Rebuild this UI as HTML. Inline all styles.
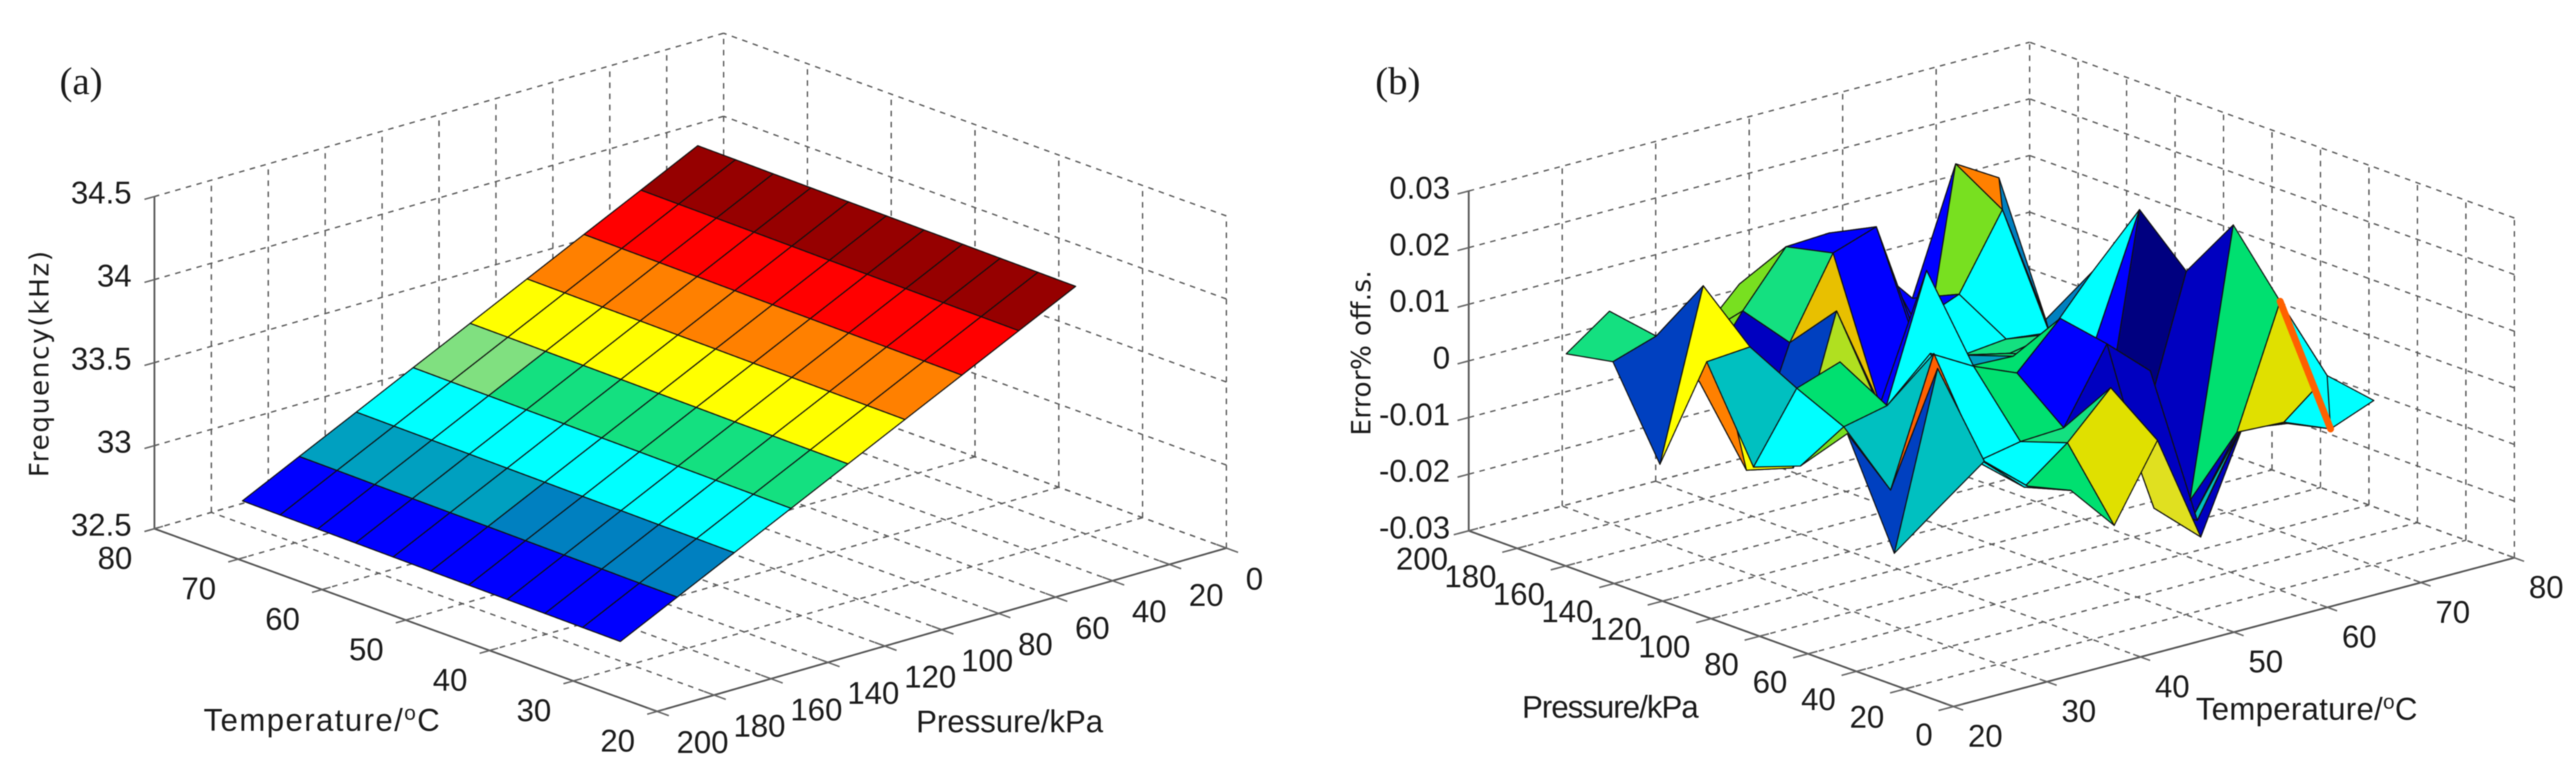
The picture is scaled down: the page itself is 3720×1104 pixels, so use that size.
<!DOCTYPE html>
<html lang="en">
<head>
<meta charset="utf-8">
<title>Frequency and error surfaces</title>
<style>
html,body{margin:0;padding:0;background:#fff;}
body{width:3720px;height:1104px;overflow:hidden;}
svg{display:block;filter:blur(0.7px);}
text{font-family:"Liberation Sans",Arial,sans-serif;fill:#1a1a1a;}
.grid{stroke:#5a5a5a;stroke-width:2;stroke-dasharray:8 8;fill:none;}
.axis{stroke:#555;stroke-width:2.6;fill:none;}
.tick{stroke:#666;stroke-width:2.2;fill:none;}
.facet{stroke:#101010;stroke-width:1.6;stroke-linejoin:round;}
.tl{font-size:45px;}
.ttl{font-size:45px;}
.wide{font-family:"DejaVu Sans",sans-serif;font-size:38px;}
.panel{font-family:"Liberation Serif",serif;font-size:56px;}
</style>
</head>
<body>
<svg id="fig" width="3720" height="1104" viewBox="0 0 3720 1104" xmlns="http://www.w3.org/2000/svg">
  <rect width="3720" height="1104" fill="#fff"/>
  <g id="panelA"></g>
  <g id="panelB"></g>
  <text class="panel" x="86" y="136">(a)</text>
  <text class="panel" x="1986" y="136">(b)</text>
  <text class="wide" transform="translate(70,526) rotate(-90)" text-anchor="middle" textLength="327">Frequency(kHz)</text>
  <text class="wide" transform="translate(1979,510) rotate(-90)" text-anchor="middle" textLength="239">Error% off.s.</text>
  <text class="ttl" x="294" y="1056" textLength="341">Temperature/<tspan dy="-16" font-size="30">o</tspan><tspan dy="16">C</tspan></text>
  <text class="ttl" x="1323" y="1058" textLength="270">Pressure/kPa</text>
  <text class="ttl" x="2198" y="1037" textLength="255">Pressure/kPa</text>
  <text class="ttl" x="3171" y="1040" textLength="320">Temperature/<tspan dy="-16" font-size="30">o</tspan><tspan dy="16">C</tspan></text>
</svg>
<script>
/* ---------- shared axis ticks ---------- */
const pressureTicks = [0,20,40,60,80,100,120,140,160,180,200];
const temperatureTicks = [20,30,40,50,60,70,80];
const frequencyTicks = [32.5,33,33.5,34,34.5];
const errorTicks = [-0.03,-0.02,-0.01,0,0.01,0.02,0.03];

/* ---------- panel (a) data ---------- */
const freqPressures = [200,180,160,140,120,100,80,60,40];
const freqTemperatures = [24.4,28.9,33.4,37.9,42.5,47,51.5,56,60.5,65,69.5];
const freqValues = [
 [32.840,32.842,32.844,32.846,32.848,32.850,32.852,32.854,32.856,32.858,32.860],
 [33.009,33.011,33.013,33.015,33.017,33.019,33.021,33.023,33.025,33.027,33.029],
 [33.178,33.180,33.182,33.184,33.186,33.188,33.190,33.192,33.194,33.196,33.198],
 [33.347,33.349,33.351,33.353,33.355,33.357,33.359,33.361,33.363,33.365,33.367],
 [33.516,33.518,33.520,33.522,33.524,33.526,33.528,33.530,33.532,33.534,33.536],
 [33.685,33.687,33.689,33.691,33.693,33.695,33.697,33.699,33.701,33.703,33.705],
 [33.854,33.856,33.858,33.860,33.862,33.864,33.866,33.868,33.870,33.872,33.874],
 [34.023,34.025,34.027,34.029,34.031,34.033,34.035,34.037,34.039,34.041,34.043],
 [34.192,34.194,34.196,34.198,34.200,34.202,34.204,34.206,34.208,34.210,34.212]
];
const freqBandEdges = [33.0,33.1035,33.2,33.35,33.4475,33.5,33.68,33.85,34.02];
const freqBandColors = ['#0000ff','#0080c0','#00a0c0','#00ffff','#14e080','#80e080','#ffff00','#ff8000','#ff0000','#960000'];

/* ---------- panel (b) data: rows are pressures, columns temperatures ---------- */
const errPressures = [24.4,43.7,63.1,82.4,101.8,121.1,140.4,159.8,179.1];
const errTemperatures = [25,29.63,34.26,38.89,43.52,48.15,52.78,57.41,62.04,66.67,71.3];
const errValues = [
 [-0.0004,0.0053,-0.0011,-0.0039,-0.0121,0.0009,-0.0182,-0.0002,-0.0022,-0.0052,-0.0022],
 [-0.0119,0.0187,0.0005,-0.0063,-0.0005,0.0072,-0.0161,-0.0203,-0.0062,-0.0070,-0.0008],
 [0.0062,-0.0058,0.0163,-0.0048,-0.0033,-0.0029,0.0099,0.0031,-0.0245,-0.0118,0.0093],
 [-0.0025,0.0024,0.0041,0.0113,0.0070,0.0038,0.0114,0.0033,-0.0049,-0.0268,0.0198],
 [-0.0057,0.0062,0.0088,-0.0028,0.0209,0.0020,0.0017,-0.0003,-0.0042,-0.0172,0.0086],
 [0.0099,0.0105,-0.0129,0.0128,-0.0058,-0.0009,-0.0011,-0.0028,-0.0014,-0.0041,0.0165],
 [-0.0112,0.0183,-0.0163,0.0042,0.0180,0.0206,-0.0025,-0.0061,-0.0053,-0.0062,0.0026],
 [0.0039,0.0064,-0.0037,0.0068,0.0161,0.0165,0.0126,-0.0035,-0.0004,0.0125,-0.0089],
 [0.0023,0.0078,0.0008,-0.0012,0.0065,0.0033,0.0113,0.0043,-0.0041,0.0176,0.0131]
];
/* colour index of every surface cell */
const errCellLevels = [
 [6,7,7,9,13,14,1,1,13,7],
 [3,17,7,7,8,1,1,6,1,13],
 [10,6,7,7,9,2,1,1,1,9],
 [7,9,7,7,7,9,2,1,1,1],
 [6,3,11,2,7,5,9,8,2,0],
 [12,12,3,15,2,2,7,8,7,7],
 [3,16,1,8,2,2,2,7,7,4],
 [8,16,10,10,2,2,2,2,10,4]
];
/* folded cells: triangles across grid nodes [pressure index, temperature index] */
const errFolds = [
 {after:[7,9],level:16,nodes:[[8,9],[8,10],[7,9]]},
 {after:[7,8],level:2,nodes:[[8,8],[8,9],[5,5]]},
 {after:[6,9],level:16,nodes:[[7,9],[7,10],[6,9]]},
 {after:[4,9],level:2,nodes:[[5,10],[5,9],[1,5]]},
 {after:[-1,-1],level:7,nodes:[[2,10],[1,10],[0,9]]},
 {after:[-1,-1],level:17,nodes:[[2,10],[0,9]],crease:true}
];
const errLateCells = [[1,9],[2,9]];
const errColormap = ['#000080','#0000c0','#0000ff','#0040c0','#0080c0','#00a0c0','#00c0c0','#00ffff','#14e080','#00e070','#78e020','#b0e020','#ffff00','#e0e000','#e0e020','#e8c000','#ff8000','#ff6000'];

/* ---------- axis functions ---------- */
const NS = 'http://www.w3.org/2000/svg';
function frame(origin,pVec,tVec,height,zMin,zMax){
  return function(p,t,z){
    return [
      origin[0]+p/200*pVec[0]+(t-20)/60*tVec[0],
      origin[1]+p/200*pVec[1]+(t-20)/60*tVec[1]-(z-zMin)/(zMax-zMin)*height
    ];
  };
}
const projA = frame([1771,792],[-822,236],[-726,-264],480,32.5,34.5);
const projB = frame([2821,1021],[-700,-254],[810,-215],491,-0.03,0.03);

function make(tag,parent,attrs,text){
  const e = document.createElementNS(NS,tag);
  for(const k in attrs){ e.setAttribute(k,attrs[k]); }
  if(text!==undefined){ e.textContent = text; }
  parent.appendChild(e);
  return e;
}
function seg(parent,cls,a,b){
  return make('line',parent,{class:cls,x1:a[0].toFixed(1),y1:a[1].toFixed(1),x2:b[0].toFixed(1),y2:b[1].toFixed(1)});
}
function poly(parent,pts,fill){
  return make('polygon',parent,{class:'facet',fill:fill,points:pts.map(q=>q[0].toFixed(1)+','+q[1].toFixed(1)).join(' ')});
}

/* grid on floor and two back walls */
function drawGrid(parent,proj,backP,zTicks){
  const zMin = zTicks[0], zMax = zTicks[zTicks.length-1];
  pressureTicks.forEach(function(p){
    const floorLine = seg(parent,'grid',proj(p,20,zMin),proj(p,80,zMin));
    
    
    const wallLine = seg(parent,'grid',proj(p,80,zMin),proj(p,80,zMax));
    
    
  });
  temperatureTicks.forEach(function(t){
    const floorLine = seg(parent,'grid',proj(0,t,zMin),proj(200,t,zMin));
    
    
    const wallLine = seg(parent,'grid',proj(backP,t,zMin),proj(backP,t,zMax));
    
    
  });
  zTicks.forEach(function(z){
    const wallA = seg(parent,'grid',proj(0,80,z),proj(200,80,z));
    
    
    const wallB = seg(parent,'grid',proj(backP,20,z),proj(backP,80,z));
    
    
  });
}

/* ---------- panel (a) ---------- */
(function(){
  const g = document.getElementById('panelA');
  drawGrid(g,projA,0,frequencyTicks);
  const z0 = frequencyTicks[0];
  const pLine = seg(g,'axis',projA(200,20,z0),projA(0,20,z0));
  
  
  const tLine = seg(g,'axis',projA(200,20,z0),projA(200,80,z0));
  
  
  const zLine = seg(g,'axis',projA(200,80,z0),projA(200,80,frequencyTicks[frequencyTicks.length-1]));
  
  

  pressureTicks.forEach(function(p){
    const tick = seg(g,'tick',projA(p,18.6,z0),projA(p,21.2,z0));
    
    
    const q = projA(p,20,z0);
    const label = make('text',g,{class:'tl',x:q[0]+28,y:q[1]+60},String(p));
    
    
  });
  temperatureTicks.forEach(function(t){
    const tick = seg(g,'tick',projA(203.5,t,z0),projA(197,t,z0));
    
    
    const q = projA(200,t,z0);
    const label = make('text',g,{class:'tl','text-anchor':'middle',x:q[0]-57,y:q[1]+58},String(t));
    
    
  });
  frequencyTicks.forEach(function(z){
    const tick = seg(g,'tick',projA(203.5,80,z),projA(200,80,z));
    
    
    const q = projA(200,80,z);
    const label = make('text',g,{class:'tl','text-anchor':'end',x:q[0]-33,y:q[1]+10},String(z));
    
    
  });

  for(let r=freqPressures.length-2;r>=0;r--){
    for(let c=freqTemperatures.length-2;c>=0;c--){
      const corners = [[r,c],[r,c+1],[r+1,c+1],[r+1,c]];
      const mean = corners.reduce((s,n)=>s+freqValues[n[0]][n[1]],0)/4;
      let band = 0;
      while(band<freqBandEdges.length && mean>=freqBandEdges[band]){ band++; }
      const pts = corners.map(n=>projA(freqPressures[n[0]],freqTemperatures[n[1]],freqValues[n[0]][n[1]]));
      const cell = poly(g,pts,freqBandColors[band]);
      
      
    }
  }
})();

/* ---------- panel (b) ---------- */
(function(){
  const g = document.getElementById('panelB');
  drawGrid(g,projB,200,errorTicks);
  const z0 = errorTicks[0];
  const pLine = seg(g,'axis',projB(0,20,z0),projB(200,20,z0));
  
  
  const tLine = seg(g,'axis',projB(0,20,z0),projB(0,80,z0));
  
  
  const zLine = seg(g,'axis',projB(200,20,z0),projB(200,20,errorTicks[errorTicks.length-1]));
  
  

  pressureTicks.forEach(function(p){
    const tick = seg(g,'tick',projB(p,18.4,z0),projB(p,21,z0));
    
    
    const q = projB(p,20,z0);
    const label = make('text',g,{class:'tl','text-anchor':'end',x:q[0]-30,y:q[1]+56},String(p));
    
    
  });
  temperatureTicks.forEach(function(t){
    const tick = seg(g,'tick',projB(-4,t,z0),projB(3,t,z0));
    
    
    const q = projB(0,t,z0);
    const label = make('text',g,{class:'tl','text-anchor':'middle',x:q[0]+46,y:q[1]+58},String(t));
    
    
  });
  errorTicks.forEach(function(z){
    const tick = seg(g,'tick',projB(200,18.8,z),projB(200,20,z));
    
    
    const q = projB(200,20,z);
    const label = make('text',g,{class:'tl','text-anchor':'end',x:q[0]-27,y:q[1]+11},String(z));
    
    
  });

  const node = n => projB(errPressures[n[0]],errTemperatures[n[1]],errValues[n[0]][n[1]]);
  const facets = [];
  for(let i=errCellLevels.length-1;i>=0;i--){
    for(let j=0;j<errCellLevels[i].length;j++){
      const lateIndex = errLateCells.findIndex(c=>c[0]===i&&c[1]===j);
      facets.push({key:lateIndex>=0?-(lateIndex+1):i+j,nodes:[[i,j],[i+1,j],[i+1,j+1],[i,j+1]],level:errCellLevels[i][j]});
    }
  }
  errFolds.forEach(function(f){
    const anchorKey = f.after[0]<0 ? -(errLateCells.length+1) : f.after[0]+f.after[1]-0.01;
    facets.push({key:anchorKey,nodes:f.nodes,level:f.level,crease:f.crease});
  });
  facets.sort((a,b)=>b.key-a.key);
  facets.forEach(function(f){
    const cell = poly(g,f.nodes.map(node),errColormap[f.level]);
    if(f.crease){
      cell.style.stroke = errColormap[f.level];
      cell.style.strokeWidth = '10px';
    }
    
    
  });
})();
</script>
</body>
</html>
